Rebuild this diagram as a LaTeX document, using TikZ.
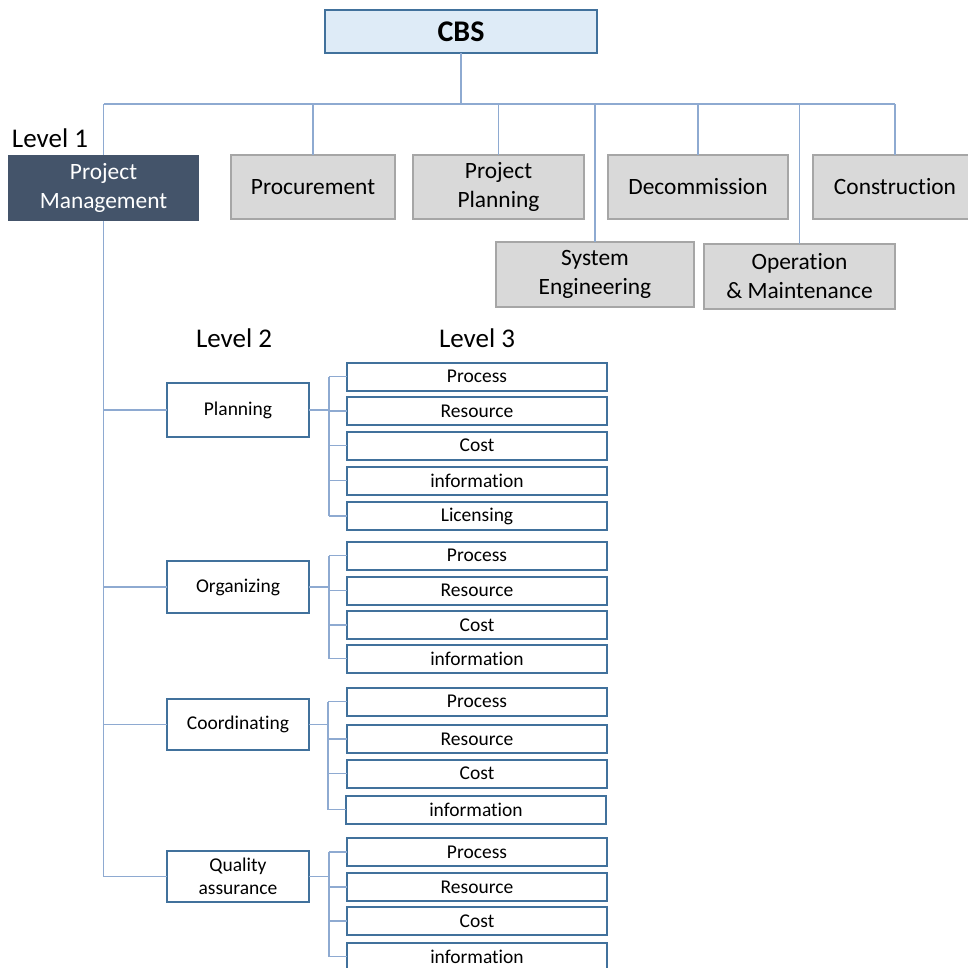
\documentclass[tikz,border=0pt]{standalone}
\usepackage{fontspec}
\setmainfont[Ligatures=NoCommon]{Carlito}
\definecolor{cbsfill}{HTML}{DEEBF7}
\definecolor{boxline}{HTML}{41719C}
\definecolor{connline}{HTML}{8EAAD1}
\definecolor{pmfill}{HTML}{44546A}
\definecolor{grayfill}{HTML}{D9D9D9}
\definecolor{grayline}{HTML}{A6A6A6}
\begin{document}
\begin{tikzpicture}[x=1pt,y=-1pt,
  every node/.style={inner sep=0pt,outer sep=0pt,align=center},
  cbsbox/.style={fill=cbsfill,draw=boxline,line width=1.5pt,
    minimum width=272pt,minimum height=43pt,font=\fontsize{30}{34}\selectfont\bfseries},
  pmbox/.style={fill=pmfill,text=white,minimum width=191pt,minimum height=66pt,
    font=\fontsize{23.4}{29}\selectfont},
  onebox/.style={fill=grayfill,draw=grayline,line width=1.5pt,minimum height=64pt,
    font=\fontsize{23.4}{29}\selectfont},
  twobox/.style={draw=boxline,line width=1.5pt,fill=white,minimum width=142pt,
    font=\fontsize{19.5}{23}\selectfont},
  threebox/.style={draw=boxline,line width=2pt,fill=white,minimum width=260pt,
    minimum height=28pt,font=\fontsize{19.5}{23}\selectfont},
  levellabel/.style={font=\fontsize{27}{32}\selectfont},
  conn/.style={draw=connline,line width=1.3pt}]
\useasboundingbox (0,0) rectangle (968,967);

% top of the breakdown
\node[cbsbox] (cbs) at (461,31.5) {CBS};
\coordinate (bus) at (461,104);

% level 1
\node[levellabel,anchor=base west] (lvone) at (12,147) {Level 1};
\node[pmbox] (pm) at (103.5,188) {Project\\Management};
\node[onebox,minimum width=164pt] (proc) at (313,187) {Procurement};
\node[onebox,minimum width=171pt] (pp) at (498.5,187) {Project\\Planning};
\node[onebox,minimum width=180pt] (dec) at (698,187) {Decommission};
\node[onebox,minimum width=164pt] (cons) at (895,187) {Construction};
\node[onebox,minimum width=198pt,minimum height=65pt] (se) at (595,274.5) {System\\Engineering};
\node[onebox,minimum width=191pt,minimum height=65pt] (om) at (799.5,276.5) {Operation\\\& Maintenance};

% connectors from CBS to level 1
\draw[conn] (cbs.south) -- (bus);
\draw[conn] (pm.north |- bus) -- (cons.north |- bus);
\foreach \n in {pm,proc,pp,dec,cons,se,om}
  \draw[conn] (\n.north) -- (\n.north |- bus);

% level 2 and level 3 labels
\node[levellabel,anchor=base] (lvtwo) at (234,347) {Level 2};
\node[levellabel,anchor=base] (lvthree) at (477,347) {Level 3};

% level 2 boxes
\node[twobox,minimum height=54pt] (pl) at (238,410) {Planning};
\node[twobox,minimum height=52pt] (org) at (238,587) {Organizing};
\node[twobox,minimum height=51pt] (coo) at (238,724.5) {Coordinating};
\node[twobox,minimum height=51pt] (qa) at (238,876.5) {Quality\\assurance};

% stem from project management down to level 2
\draw[conn] (pm.south) -- (pm.south |- qa.west);
\foreach \n in {pl,org,coo,qa}
  \draw[conn] (\n.west) -- (\n.west -| pm.south);

% level 3: planning
\node[threebox] (plA) at (477,376.5) {Process};
\node[threebox] (plB) at (477,411) {Resource};
\node[threebox] (plC) at (477,445.5) {Cost};
\node[threebox] (plD) at (477,480.5) {information};
\node[threebox] (plE) at (477,516) {Licensing};
% level 3: organizing
\node[threebox] (orA) at (477,555.5) {Process};
\node[threebox] (orB) at (477,590.5) {Resource};
\node[threebox] (orC) at (477,625) {Cost};
\node[threebox] (orD) at (477,658.5) {information};
% level 3: coordinating
\node[threebox] (coA) at (477,701.5) {Process};
\node[threebox] (coB) at (477,739) {Resource};
\node[threebox] (coC) at (477,773.5) {Cost};
\node[threebox] (coD) at (476,809.5) {information};
% level 3: quality assurance
\node[threebox] (qaA) at (477,852) {Process};
\node[threebox] (qaB) at (477,887) {Resource};
\node[threebox] (qaC) at (477,921) {Cost};
\node[threebox] (qaD) at (477,956.5) {information};

% brackets from level 2 to level 3
\coordinate (brpl) at (329,410);
\coordinate (brorg) at (329,587);
\coordinate (brcoo) at (328,724.5);
\coordinate (brqa) at (329,876.5);

\draw[conn] (pl.east) -- (brpl);
\draw[conn] (plA.west -| brpl) -- (plE.west -| brpl);
\foreach \n in {plA,plB,plC,plD,plE}
  \draw[conn] (\n.west) -- (\n.west -| brpl);

\draw[conn] (org.east) -- (brorg);
\draw[conn] (orA.west -| brorg) -- (orD.west -| brorg);
\foreach \n in {orA,orB,orC,orD}
  \draw[conn] (\n.west) -- (\n.west -| brorg);

\draw[conn] (coo.east) -- (brcoo);
\draw[conn] (coA.west -| brcoo) -- (coD.west -| brcoo);
\foreach \n in {coA,coB,coC,coD}
  \draw[conn] (\n.west) -- (\n.west -| brcoo);

\draw[conn] (qa.east) -- (brqa);
\draw[conn] (qaA.west -| brqa) -- (qaD.west -| brqa);
\foreach \n in {qaA,qaB,qaC,qaD}
  \draw[conn] (\n.west) -- (\n.west -| brqa);
\end{tikzpicture}
\end{document}
